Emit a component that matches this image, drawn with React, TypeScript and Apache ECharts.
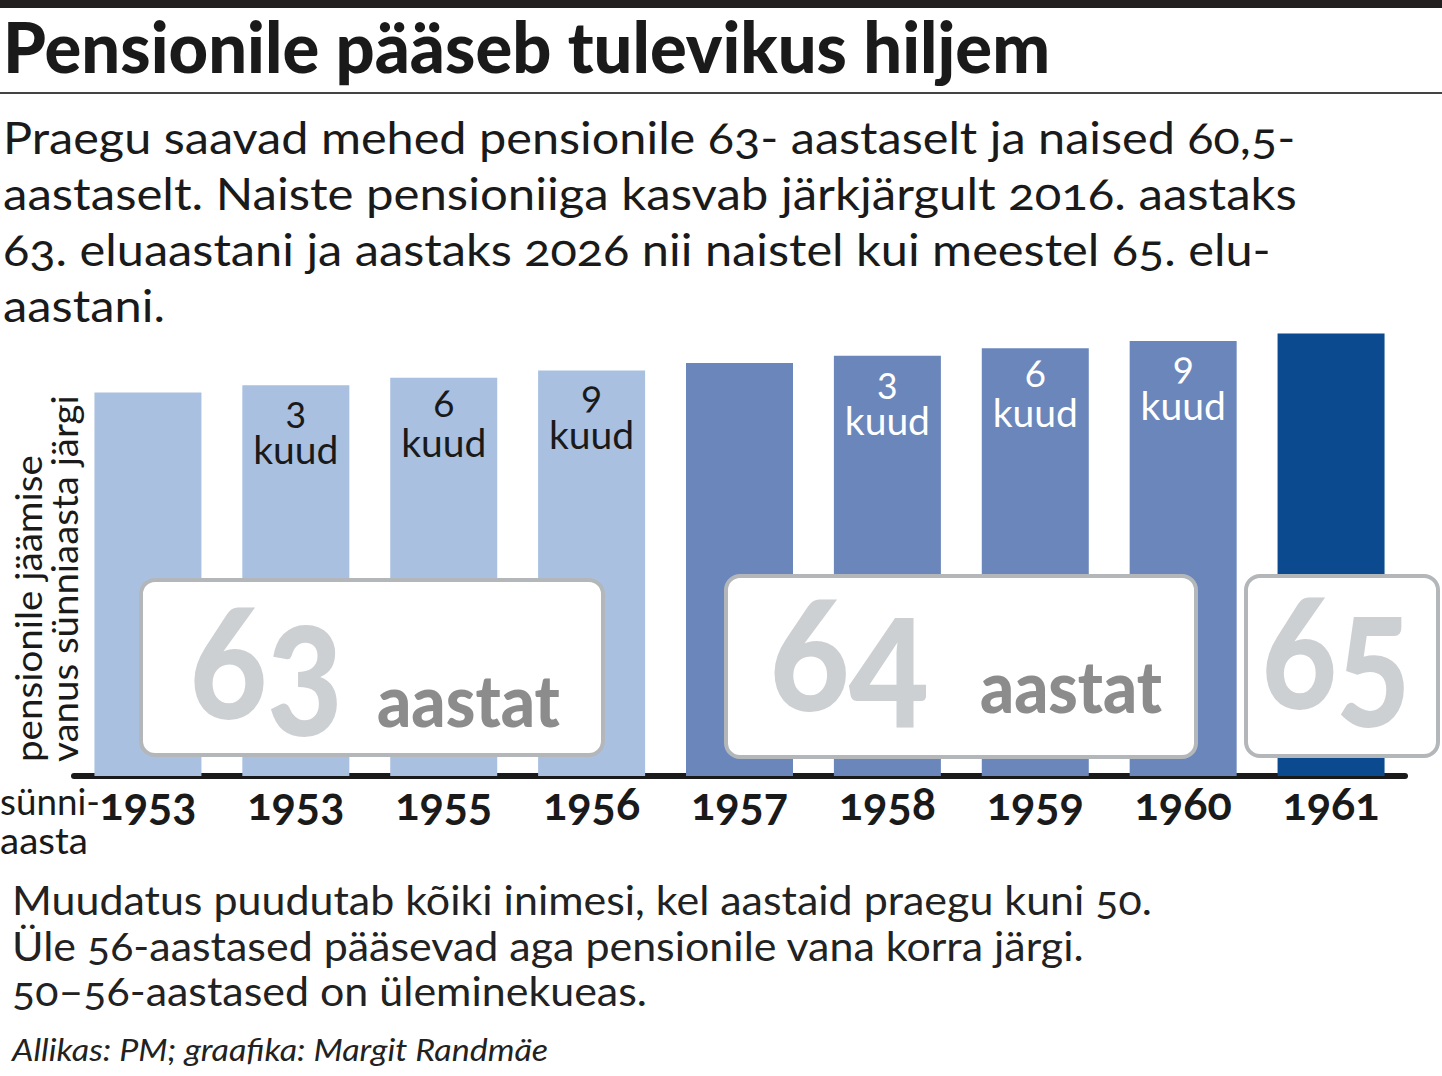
import React, { useEffect, useRef } from "react";
import * as echarts from "echarts";

// ---------- data ----------
const birthYears = ["1953", "1953", "1955", "1956", "1957", "1958", "1959", "1960", "1961"];
const pensionAge = [63, 63.25, 63.5, 63.75, 64, 64.25, 64.5, 64.75, 65];
const extraMonths = ["", "3", "6", "9", "", "3", "6", "9", ""];
const ageGroup = [63, 63, 63, 63, 64, 64, 64, 64, 65];
const monthWord = "kuud";
const yearWord = "aastat";

const titleText = "Pensionile pääseb tulevikus hiljem";
const introLines = [
  "Praegu saavad mehed pensionile 63- aastaselt ja naised 60,5-",
  "aastaselt. Naiste pensioniiga kasvab järkjärgult 2016. aastaks",
  "63. eluaastani ja aastaks 2026 nii naistel kui meestel 65. elu-",
  "aastani.",
];
const yAxisLines = ["pensionile jäämise", "vanus sünniaasta järgi"];
const xAxisLines = ["sünni-", "aasta"];
const noteLines = [
  "Muudatus puudutab kõiki inimesi, kel aastaid praegu kuni 50.",
  "Üle 56-aastased pääsevad aga pensionile vana korra järgi.",
  "50–56-aastased on üleminekueas.",
];
const sourceText = "Allikas: PM; graafika: Margit Randmäe";

// ---------- styles ----------
const FONT = "Lato, 'Noto Sans', sans-serif";
const groupColor: Record<number, string> = { 63: "#a9c0e1", 64: "#6a86bb", 65: "#0b4a8e" };
const groupLabelColor: Record<number, string> = { 63: "#1a1a1a", 64: "#ffffff", 65: "#ffffff" };

let ctx: CanvasRenderingContext2D | null = null;
function measure(text: string, size: number, weight: string | number = 400, style = "normal") {
  if (!ctx) ctx = document.createElement("canvas").getContext("2d");
  ctx!.font = `${style} ${weight} ${size}px ${FONT}`;
  return ctx!.measureText(text).width;
}
function fit(text: string, size: number, target: number, weight: string | number = 400, style = "normal") {
  const w = measure(text, size, weight, style);
  return w > 0 ? target / w : 1;
}

function txt(text: string, x: number, y: number, size: number, opts: any = {}) {
  const weight = opts.weight ?? 400;
  const fstyle = opts.fontStyle ?? "normal";
  const scaleX = opts.width ? fit(text, size, opts.width, weight, fstyle) : opts.scaleX ?? 1;
  return {
    type: "text",
    x,
    y,
    z: opts.z ?? 100,
    rotation: opts.rotation ?? 0,
    scaleX,
    style: {
      text,
      fontSize: size,
      fontFamily: FONT,
      fontWeight: weight,
      fontStyle: fstyle,
      fill: opts.fill ?? "#1a1a1a",
      align: "left",
      verticalAlign: "middle",
    },
  };
}

export default function App() {
  const ref = useRef<HTMLDivElement>(null);

  useEffect(() => {
    document.body.style.margin = "0";
    const chart = echarts.init(ref.current!, null, { renderer: "svg" });

    const introTargets = [1302, 1302, 1284, 162];
    const introY = [137, 193, 249, 305];

    const noteTargets = [1148, 1078, 638];
    const noteScale =
      noteTargets.reduce((s, t, i) => s + fit(noteLines[i], 40, t), 0) / noteTargets.length;
    const noteY = [900, 946, 991];

    const boxStyle = { fill: "#ffffff", stroke: "#b4b7ba", lineWidth: 4 };

    const graphics: any[] = [
      { type: "rect", shape: { x: 0, y: 0, width: 1442, height: 8 }, style: { fill: "#231f20" }, z: 100 },
      { type: "line", shape: { x1: 0, y1: 93, x2: 1442, y2: 93 }, style: { stroke: "#444", lineWidth: 2 }, z: 100 },
      txt(titleText, 3, 46, 70, { weight: 900, width: 1047 }),
      ...introLines.map((l, i) => txt(l, 3, introY[i], 44, { width: introTargets[i] })),
      ...noteLines.map((l, i) => txt(l, 12, noteY[i], 40, { scaleX: noteScale, fill: "#222" })),
      txt(sourceText, 12, 1049, 30, { fontStyle: "italic", width: 536, fill: "#222" }),
      txt(yAxisLines[0], 28, 762, 36, { rotation: Math.PI / 2, width: 307 }),
      txt(yAxisLines[1], 64, 762, 36, { rotation: Math.PI / 2, width: 367 }),
      txt(xAxisLines[0], 0, 801, 36, { width: 100 }),
      txt(xAxisLines[1], 0, 840, 36, { width: 88 }),
      // group boxes
      { type: "rect", z: 100, shape: { x: 141, y: 580, width: 462, height: 175, r: 14 }, style: boxStyle },
      { type: "rect", z: 100, shape: { x: 726, y: 576, width: 470, height: 181, r: 14 }, style: boxStyle },
      { type: "rect", z: 100, shape: { x: 1246, y: 576, width: 192, height: 180, r: 14 }, style: boxStyle },
      txt(String(ageGroup[0]), 190, 656, 162, { weight: 900, width: 165, fill: "#cdd0d3", z: 101 }),
      txt(yearWord, 377, 699, 72, { weight: 900, width: 183, fill: "#8c8c8c", z: 101 }),
      txt(String(ageGroup[4]), 770, 649, 162, { weight: 900, width: 170, fill: "#cdd0d3", z: 101 }),
      txt(yearWord, 980, 685, 72, { weight: 900, width: 182, fill: "#8c8c8c", z: 101 }),
      txt(String(ageGroup[8]), 1262, 647, 162, { weight: 900, width: 160, fill: "#cdd0d3", z: 101 }),
    ];

    chart.setOption({
      animation: false,
      backgroundColor: "#ffffff",
      grid: { left: 74, right: 37, top: 304, bottom: 1076 - 776, containLabel: false },
      xAxis: {
        type: "category",
        data: birthYears,
        axisLine: { show: true, lineStyle: { color: "#1a1a1a", width: 6 } },
        axisTick: { show: false },
        axisLabel: {
          margin: 27,
          verticalAlign: "middle",
          fontSize: 45,
          fontWeight: 700,
          fontFamily: FONT,
          color: "#1a1a1a",
          interval: 0,
        },
      },
      yAxis: {
        type: "value",
        min: 50,
        max: 66,
        show: false,
        splitLine: { show: false },
      },
      series: [
        {
          type: "bar",
          barWidth: 107,
          z: 2,
          data: pensionAge.map((v, i) => ({
            value: v,
            itemStyle: { color: groupColor[ageGroup[i]] },
            label: { color: groupLabelColor[ageGroup[i]] },
          })),
          label: {
            show: true,
            position: "insideTop",
            distance: 4,
            fontSize: 39,
            lineHeight: 40,
            fontFamily: FONT,
            align: "center",
            formatter: (p: any) => (extraMonths[p.dataIndex] ? `${extraMonths[p.dataIndex]}\n${monthWord}` : ""),
          },
        },
      ],
      graphic: graphics,
    });

    return () => chart.dispose();
  }, []);

  return (
    <div
      ref={ref}
      style={{ width: 1442, height: 1076, fontFeatureSettings: '"onum" 1' }}
    />
  );
}
